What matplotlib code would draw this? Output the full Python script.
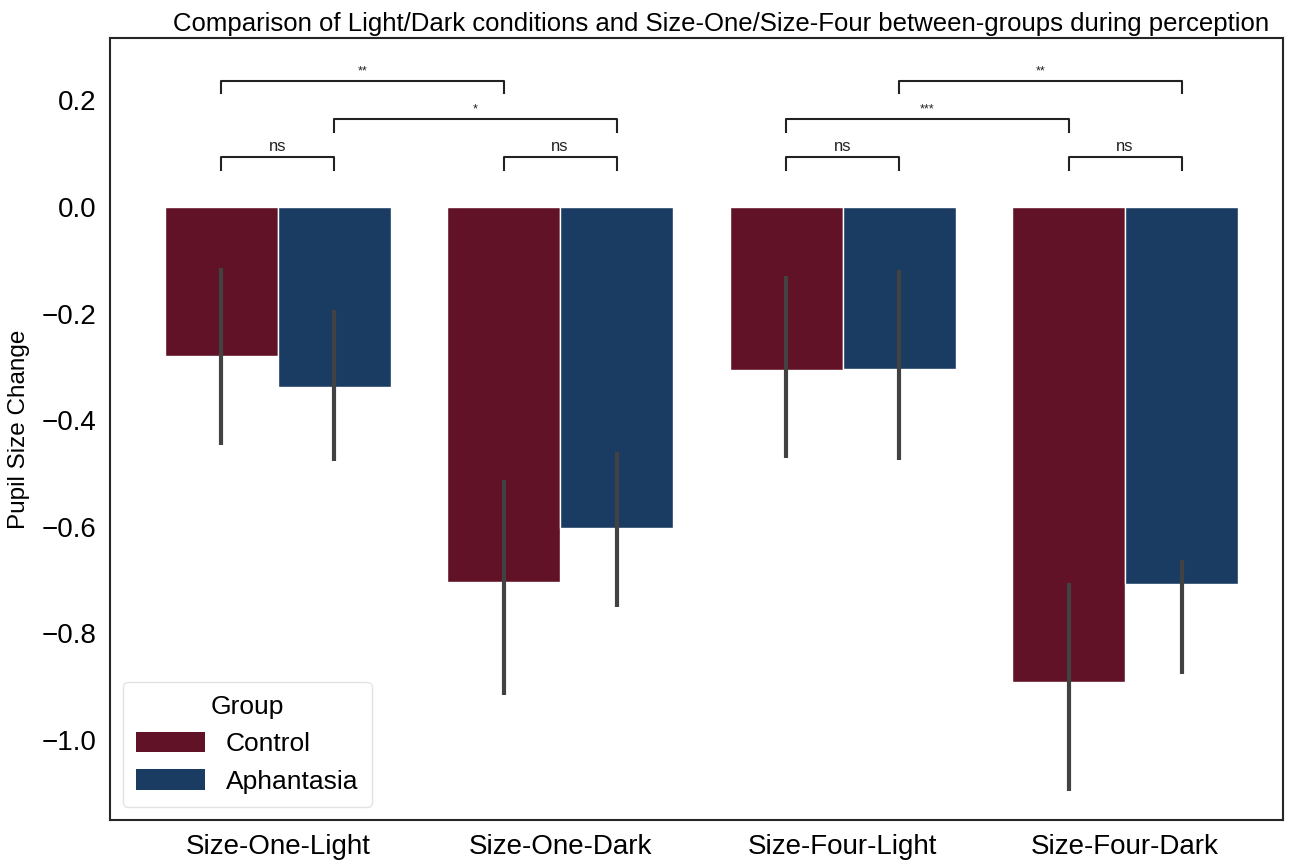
import numpy as np
import matplotlib
matplotlib.use("Agg")
import matplotlib.pyplot as plt
from matplotlib.patches import Patch

plt.rcParams['font.family'] = ['Liberation Sans', 'DejaVu Sans']

conditions = ["Size-One-Light", "Size-One-Dark", "Size-Four-Light", "Size-Four-Dark"]
groups = ["Control", "Aphantasia"]
colors = ["#621226", "#1a3c62"]

# mean pupil change per condition, and the 95% CI bounds
control_mean = [-0.279, -0.704, -0.305, -0.891]
aphantasia_mean = [-0.338, -0.603, -0.303, -0.707]
control_ci = [(-0.446, -0.114), (-0.916, -0.513), (-0.470, -0.130), (-1.095, -0.706)]
aphantasia_ci = [(-0.476, -0.193), (-0.750, -0.460), (-0.474, -0.119), (-0.876, -0.662)]

# significance brackets: ((condition, group), (condition, group), label, level)
pairs = [
    (("Size-One-Light", "Control"), ("Size-One-Light", "Aphantasia"), "ns", 0),
    (("Size-One-Dark", "Control"), ("Size-One-Dark", "Aphantasia"), "ns", 0),
    (("Size-Four-Light", "Control"), ("Size-Four-Light", "Aphantasia"), "ns", 0),
    (("Size-Four-Dark", "Control"), ("Size-Four-Dark", "Aphantasia"), "ns", 0),
    (("Size-One-Light", "Aphantasia"), ("Size-One-Dark", "Aphantasia"), "*", 1),
    (("Size-One-Light", "Control"), ("Size-One-Dark", "Control"), "**", 2),
    (("Size-Four-Light", "Control"), ("Size-Four-Dark", "Control"), "***", 1),
    (("Size-Four-Light", "Aphantasia"), ("Size-Four-Dark", "Aphantasia"), "**", 2),
]

fig = plt.figure(figsize=(12.98, 8.6), dpi=100)
ax = fig.add_axes([0.0847, 0.0465, 0.9037, 0.9093])

width = 0.4
x = np.arange(len(conditions))
means = [control_mean, aphantasia_mean]
cis = [control_ci, aphantasia_ci]
centers = {}
for g, (name, col) in enumerate(zip(groups, colors)):
    offs = x + (g - 0.5) * width
    ax.bar(offs, means[g], width=width, color=col, edgecolor="white", linewidth=1)
    lo = [c[0] for c in cis[g]]
    hi = [c[1] for c in cis[g]]
    ax.vlines(offs, lo, hi, color="#424242", linewidth=3)
    for cond, xo in zip(conditions, offs):
        centers[(cond, name)] = xo

# brackets
base, step, tip = 0.094, 0.0715, 0.024
for a, b, label, level in pairs:
    x1, x2 = centers[a], centers[b]
    y = base + level * step
    ax.plot([x1, x1, x2, x2], [y - tip, y, y, y - tip], color="#222222", linewidth=1.5)
    fs = 12 if label == "ns" else 9
    ax.text((x1 + x2) / 2, y + 0.006, label, ha="center", va="bottom", fontsize=fs, color="#222222")

ax.set_xlim(-0.594, 3.559)
ax.set_ylim(-1.150, 0.317)
ax.set_xticks(x)
ax.set_xticklabels(conditions, fontsize=20)
ax.set_yticks([0.2, 0.0, -0.2, -0.4, -0.6, -0.8, -1.0])
ax.set_yticklabels([f"{v:.1f}".replace("-", "\u2212") for v in [0.2, 0.0, -0.2, -0.4, -0.6, -0.8, -1.0]])
ax.tick_params(axis="y", labelsize=20, length=0, pad=10)
ax.tick_params(axis="x", length=0, pad=10)
ax.set_ylabel("Pupil Size Change", fontsize=17.5, labelpad=8)
ax.set_title("Comparison of Light/Dark conditions and Size-One/Size-Four between-groups during perception",
             fontsize=18.5, pad=5, x=0.521)
for s in ax.spines.values():
    s.set_color("#262626")
    s.set_linewidth(1.5)

handles = [Patch(facecolor=c, label=g) for g, c in zip(groups, colors)]
leg = ax.legend(handles=handles, title="Group", loc="lower left", fontsize=19, title_fontsize=19,
                frameon=True, borderpad=0.5, handlelength=2.6, handleheight=0.8)
leg.get_frame().set_edgecolor("#dddddd")

fig.savefig("out.png", dpi=100)
